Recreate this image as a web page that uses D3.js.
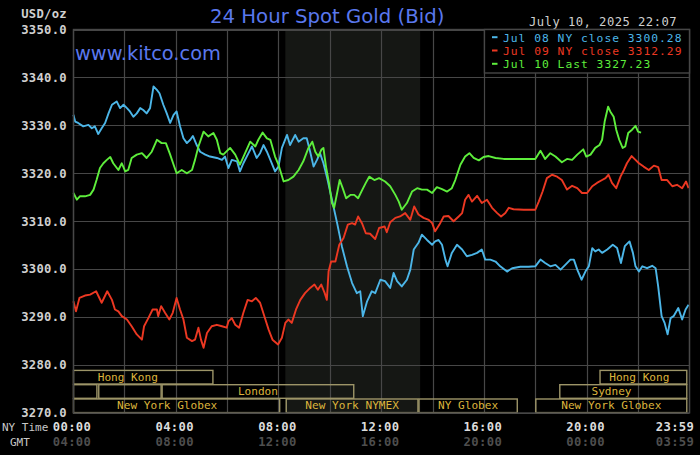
<!DOCTYPE html>
<html><head><meta charset="utf-8">
<script src="https://cdn.jsdelivr.net/npm/d3@7/dist/d3.min.js"></script>
<style>
html,body{margin:0;padding:0;background:#000;}
svg{display:block;}
</style></head>
<body>
<svg id="chart" width="700" height="455"></svg>
<script>
// ---------- DATA ----------
// time in minutes after 00:00 NY time, price in USD/oz
const jul08 = [[1,3332.2],[5,3330.8],[12,3330.5],[24,3329.8],[36,3330.1],[44,3329.4],[51,3329.8],[59,3328.2],[67,3329.4],[75,3330.5],[83,3332.5],[91,3334.3],[102,3335.0],[110,3333.6],[118,3334.3],[126,3333.6],[133,3332.9],[141,3331.8],[149,3332.5],[157,3333.6],[164,3333.2],[172,3332.5],[180,3333.6],[188,3338.1],[196,3337.4],[202,3336.7],[211,3334.3],[219,3332.5],[227,3330.5],[235,3332.2],[242,3332.9],[250,3329.8],[258,3327.3],[266,3326.3],[274,3327.0],[280,3327.8],[289,3325.9],[297,3324.5],[309,3323.9],[320,3323.5],[336,3323.2],[348,3322.8],[355,3323.5],[363,3321.1],[371,3322.8],[383,3322.5],[390,3320.4],[398,3322.1],[410,3324.2],[418,3325.6],[429,3323.2],[437,3324.2],[445,3325.9],[453,3324.5],[461,3322.8],[472,3320.4],[480,3321.4],[488,3325.3],[500,3328.0],[507,3325.9],[519,3328.0],[527,3326.6],[538,3327.3],[546,3327.3],[554,3324.5],[562,3321.4],[570,3322.8],[577,3324.2],[585,3322.1],[593,3319.3],[605,3314.5],[617,3309.6],[628,3304.8],[640,3300.6],[652,3297.1],[663,3295.0],[671,3295.4],[677,3290.2],[687,3293.3],[698,3295.4],[706,3295.0],[718,3297.8],[729,3297.5],[741,3296.1],[749,3299.2],[757,3297.5],[768,3296.4],[780,3297.8],[788,3299.9],[796,3304.1],[807,3305.5],[815,3307.2],[827,3306.1],[839,3305.1],[846,3305.8],[854,3306.1],[862,3305.1],[870,3302.0],[875,3300.6],[885,3303.4],[897,3305.1],[909,3304.1],[920,3302.7],[932,3303.0],[944,3303.4],[955,3304.1],[963,3302.0],[975,3302.0],[987,3301.6],[998,3300.6],[1014,3299.5],[1026,3300.2],[1045,3300.5],[1064,3300.5],[1080,3300.6],[1092,3302.0],[1103,3301.3],[1115,3300.6],[1127,3300.9],[1139,3299.9],[1150,3300.9],[1162,3302.0],[1170,3302.0],[1178,3299.9],[1188,3297.8],[1197,3299.5],[1205,3300.6],[1213,3304.4],[1220,3303.7],[1228,3304.1],[1236,3303.4],[1248,3304.1],[1261,3305.1],[1271,3304.4],[1280,3301.3],[1289,3304.8],[1300,3305.8],[1308,3303.4],[1314,3300.6],[1322,3299.5],[1330,3300.6],[1341,3300.2],[1353,3300.7],[1361,3300.2],[1367,3296.4],[1375,3290.2],[1382,3288.8],[1389,3286.4],[1396,3289.8],[1403,3290.2],[1414,3291.9],[1423,3289.5],[1431,3291.6],[1438,3292.6]];

const jul09 = [[1,3293.3],[7,3291.2],[15,3294.0],[28,3294.5],[40,3294.7],[54,3295.4],[67,3293.0],[80,3295.4],[91,3293.6],[98,3291.6],[106,3291.2],[114,3290.2],[126,3289.5],[137,3288.1],[149,3286.4],[161,3285.3],[166,3288.1],[176,3289.8],[186,3291.6],[196,3291.6],[199,3290.2],[206,3292.3],[215,3290.9],[225,3289.5],[233,3290.9],[242,3294.0],[250,3291.6],[258,3289.5],[266,3285.7],[278,3285.0],[285,3285.3],[293,3287.8],[299,3285.3],[305,3283.6],[313,3286.7],[324,3288.1],[336,3288.4],[348,3288.1],[359,3287.8],[363,3289.1],[371,3289.8],[379,3288.4],[388,3287.8],[398,3290.9],[408,3293.6],[418,3293.3],[427,3294.0],[437,3293.0],[447,3290.2],[457,3287.4],[466,3285.3],[479,3284.3],[488,3285.7],[496,3288.8],[503,3289.5],[511,3288.8],[521,3291.6],[531,3293.6],[542,3295.0],[554,3296.1],[564,3296.8],[572,3295.7],[580,3296.8],[588,3295.0],[593,3293.6],[597,3299.5],[603,3301.6],[613,3301.6],[622,3305.1],[632,3306.5],[642,3309.3],[652,3309.6],[659,3309.3],[666,3311.0],[675,3309.6],[684,3307.5],[694,3307.4],[706,3306.3],[715,3308.6],[728,3308.9],[733,3307.7],[741,3309.8],[753,3310.7],[764,3311.0],[776,3311.7],[788,3310.3],[797,3313.1],[807,3311.4],[819,3310.7],[831,3310.3],[839,3309.6],[846,3307.9],[856,3309.3],[866,3311.0],[877,3311.1],[889,3310.0],[901,3311.0],[909,3311.7],[916,3314.5],[924,3315.5],[932,3314.1],[944,3315.3],[955,3313.8],[967,3314.5],[979,3312.8],[991,3311.7],[1000,3311.0],[1010,3311.7],[1018,3312.8],[1029,3312.5],[1053,3312.4],[1080,3312.4],[1088,3314.1],[1097,3316.2],[1107,3319.0],[1119,3319.7],[1131,3319.3],[1142,3318.6],[1154,3316.6],[1166,3317.4],[1178,3316.9],[1189,3315.9],[1201,3315.9],[1213,3317.3],[1224,3318.0],[1236,3318.6],[1244,3319.0],[1251,3319.7],[1259,3318.0],[1269,3316.9],[1279,3319.3],[1287,3320.7],[1294,3322.1],[1305,3323.6],[1314,3322.8],[1322,3322.1],[1333,3321.4],[1345,3320.7],[1357,3321.6],[1367,3321.3],[1375,3318.6],[1388,3318.6],[1400,3317.3],[1411,3317.6],[1423,3316.9],[1432,3318.3],[1438,3316.9]];

const jul10 = [[1,3315.9],[9,3314.5],[16,3315.2],[28,3315.2],[40,3315.5],[48,3316.6],[55,3318.6],[63,3321.1],[71,3322.1],[79,3322.8],[87,3323.4],[94,3322.1],[106,3320.7],[114,3322.1],[122,3320.4],[129,3320.7],[137,3323.2],[149,3323.9],[161,3324.2],[172,3323.2],[184,3324.5],[196,3327.0],[207,3326.3],[217,3326.3],[227,3323.9],[235,3321.8],[242,3320.0],[254,3320.7],[266,3320.0],[278,3320.7],[285,3322.8],[293,3325.6],[305,3328.7],[316,3327.7],[328,3328.4],[336,3327.0],[344,3324.2],[351,3323.9],[367,3325.3],[379,3323.9],[390,3321.8],[402,3324.2],[414,3326.6],[426,3325.6],[433,3327.0],[443,3328.5],[453,3327.3],[461,3327.0],[472,3323.5],[480,3321.8],[492,3318.3],[503,3318.6],[515,3319.3],[527,3320.7],[538,3322.5],[550,3325.3],[559,3326.6],[566,3324.5],[573,3323.5],[580,3324.9],[585,3325.3],[591,3321.4],[598,3318.0],[605,3313.8],[610,3312.8],[617,3315.9],[623,3318.6],[630,3316.9],[638,3314.8],[648,3315.5],[657,3315.5],[666,3314.8],[676,3316.6],[684,3318.0],[692,3319.3],[704,3318.6],[715,3319.0],[729,3318.3],[741,3317.3],[753,3315.5],[761,3314.1],[768,3312.4],[780,3313.8],[792,3316.2],[804,3316.9],[815,3316.6],[827,3316.6],[839,3315.9],[850,3317.1],[862,3316.7],[874,3316.2],[885,3316.9],[893,3318.6],[905,3321.8],[916,3323.5],[926,3324.2],[936,3323.2],[948,3322.7],[959,3323.4],[971,3323.6],[987,3323.2],[1006,3323.0],[1029,3323.0],[1061,3323.0],[1080,3323.0],[1092,3324.7],[1103,3323.0],[1115,3324.2],[1127,3323.5],[1142,3322.3],[1154,3323.0],[1166,3322.8],[1178,3323.9],[1192,3325.0],[1199,3323.5],[1209,3323.9],[1220,3325.3],[1230,3325.9],[1236,3327.0],[1242,3330.8],[1250,3333.9],[1255,3332.9],[1263,3331.8],[1269,3329.1],[1276,3327.0],[1284,3325.3],[1290,3325.6],[1297,3328.4],[1306,3329.1],[1314,3329.9],[1320,3328.7],[1327,3328.5]];

const yTicks = [3270,3280,3290,3300,3310,3320,3330,3340,3350];
const xTickMinutes = [0,240,480,720,960,1200,1439];
const nyTimeLabels = ["00:00","04:00","08:00","12:00","16:00","20:00","23:59"];
const gmtLabels = ["04:00","08:00","12:00","16:00","20:00","00:00","03:59"];
const gridMinutes = [0,120,240,360,480,600,720,840,960,1080,1200,1320,1439];

const legendLabels = ["Jul 08 NY close 3300.28","Jul 09 NY close 3312.29","Jul 10 Last 3327.23"];
const seriesColors = ["#4cb6e8","#ec3822","#5eee3c"];

const shadeWindow = [496, 811];  // NYMEX pit session 8:20 - 13:30

// session bars: row 0 = Asia, row 1 = Europe/Pacific, row 2 = New York
const sessions = [
  {name:"Hong Kong", row:0, start:0, end:328, label:128},
  {name:"", row:1, start:0, end:57},
  {name:"", row:1, start:59, end:207},
  {name:"London", row:1, start:207, end:657},
  {name:"New York Globex", row:2, start:0, end:484, label:220},
  {name:"New York NYMEX", row:2, start:497, end:807},
  {name:"NY Globex", row:2, start:807, end:1039},
  {name:"Hong Kong", row:0, start:1230, end:1435, label:1323},
  {name:"Sydney", row:1, start:1136, end:1435, label:1258},
  {name:"New York Globex", row:2, start:1080, end:1435}
];

// ---------- DRAWING ----------
const svg = d3.select("#chart");
const L = 73, R = 689, T = 29.5, B = 413;
const x = d3.scaleLinear().domain([0,1439]).range([L,R]);
const y = d3.scaleLinear().domain([3270,3350]).range([B,T]);
const mono = "'DejaVu Sans Mono', monospace";
const gridCol = "#474747";

svg.append("rect").attr("width",700).attr("height",455).attr("fill","#000");

// shaded NYMEX window
svg.append("rect")
  .attr("x", x(shadeWindow[0])).attr("y", T)
  .attr("width", x(shadeWindow[1]) - x(shadeWindow[0]))
  .attr("height", B - T)
  .attr("fill", "#151714");

// grid
svg.append("g").selectAll("line").data(yTicks).join("line")
  .attr("x1",L).attr("x2",R)
  .attr("y1",d=>Math.round(y(d))+0.5).attr("y2",d=>Math.round(y(d))+0.5)
  .attr("stroke",gridCol).attr("stroke-width",1.2);
svg.append("g").selectAll("line").data(gridMinutes).join("line")
  .attr("x1",d=>Math.round(x(d))+0.5).attr("x2",d=>Math.round(x(d))+0.5)
  .attr("y1",T).attr("y2",B)
  .attr("stroke",gridCol).attr("stroke-width",1.2);

// website & title
svg.append("text").attr("x",75).attr("y",60)
  .attr("font-family","'DejaVu Sans', sans-serif").attr("font-size",19.4)
  .attr("fill","#5a78ee").text("www.kitco.com");
svg.append("text").attr("x",210).attr("y",22.7)
  .attr("font-family","'DejaVu Sans', sans-serif").attr("font-size",19.7)
  .attr("fill","#5a78ee").text("24 Hour Spot Gold (Bid)");
svg.append("text").attr("x",677).attr("y",26).attr("text-anchor","end")
  .attr("font-family",mono).attr("font-size",12.2).attr("letter-spacing",0.45)
  .attr("fill","#cfcfcf").text("July 10, 2025 22:07");

// y axis labels
svg.append("text").attr("x",67).attr("y",18).attr("text-anchor","end")
  .attr("font-family",mono).attr("font-size",12.2).attr("font-weight","bold")
  .attr("letter-spacing",0.3)
  .attr("fill","#d0d0d0").text("USD/oz");
svg.append("g").selectAll("text").data(yTicks).join("text")
  .attr("x",67).attr("y",d=>y(d)+4.3).attr("text-anchor","end")
  .attr("font-family",mono).attr("font-size",12.2).attr("font-weight","bold")
  .attr("letter-spacing",0.3)
  .attr("fill","#d0d0d0").text(d=>d.toFixed(1));

// sessions
const rowTop = r => B - (3 - r) * 14.3 + 0.3;
const rowH = 13.6;
const sg = svg.append("g");
sg.selectAll("rect").data(sessions).join("rect")
  .attr("x",d=>x(d.start)+0.5).attr("y",d=>rowTop(d.row))
  .attr("width",d=>x(d.end)-x(d.start)-1).attr("height",rowH)
  .attr("fill","none").attr("stroke","#9d9568").attr("stroke-width",1.4);
sg.selectAll("text").data(sessions.filter(d=>d.name)).join("text")
  .attr("x",d=>x(d.label!==undefined ? d.label : (d.start+d.end)/2))
  .attr("y",d=>rowTop(d.row)+10.3)
  .attr("text-anchor","middle")
  .attr("font-family",mono).attr("font-size",11.1)
  .attr("fill","#dcb43c").text(d=>d.name);

// series lines
const line = d3.line().x(d=>x(d[0])).y(d=>y(d[1]));
[jul08, jul09, jul10].forEach((s,i)=>{
  svg.append("path").datum(s).attr("d",line)
    .attr("fill","none").attr("stroke",seriesColors[i])
    .attr("stroke-width",1.9).attr("stroke-linejoin","round");
});

// plot border
svg.append("rect").attr("x",L+0.5).attr("y",T).attr("width",R-L).attr("height",B-T)
  .attr("fill","none").attr("stroke",gridCol).attr("stroke-width",1.4);

// legend box
const lg = svg.append("g");
lg.append("rect").attr("x",x(960)+0.5).attr("y",T).attr("width",R-x(960)).attr("height",43.5)
  .attr("fill","#000").attr("stroke",gridCol).attr("stroke-width",1.4);
legendLabels.forEach((t,i)=>{
  const by = 41.5 + i*13.3;
  lg.append("line").attr("x1",492).attr("x2",497.5).attr("y1",by-4.3).attr("y2",by-4.3)
    .attr("stroke",seriesColors[i]).attr("stroke-width",2);
  lg.append("text").attr("x",503).attr("y",by)
    .attr("font-family",mono).attr("font-size",11.3).attr("letter-spacing",1.0)
    .attr("fill",seriesColors[i]).text(t);
});

// x axis labels
svg.append("text").attr("x",2).attr("y",431)
  .attr("font-family",mono).attr("font-size",11).attr("fill","#c8c8c8").text("NY Time");
svg.append("text").attr("x",10).attr("y",446)
  .attr("font-family",mono).attr("font-size",11).attr("fill","#c8c8c8").text("GMT");
const xl = (m) => Math.min(x(m) - 1, 675);
svg.append("g").selectAll("text").data(xTickMinutes).join("text")
  .attr("x",(d)=>xl(d)).attr("y",431).attr("text-anchor","middle")
  .attr("font-family",mono).attr("font-size",12.2).attr("font-weight","bold")
  .attr("letter-spacing",0.4)
  .attr("fill","#dcdcdc").text((d,i)=>nyTimeLabels[i]);
svg.append("g").selectAll("text").data(xTickMinutes).join("text")
  .attr("x",(d)=>xl(d)).attr("y",446).attr("text-anchor","middle")
  .attr("font-family",mono).attr("font-size",12.2).attr("font-weight","bold")
  .attr("letter-spacing",0.4)
  .attr("fill","#4e4e4e").text((d,i)=>gmtLabels[i]);
</script>
</body></html>
